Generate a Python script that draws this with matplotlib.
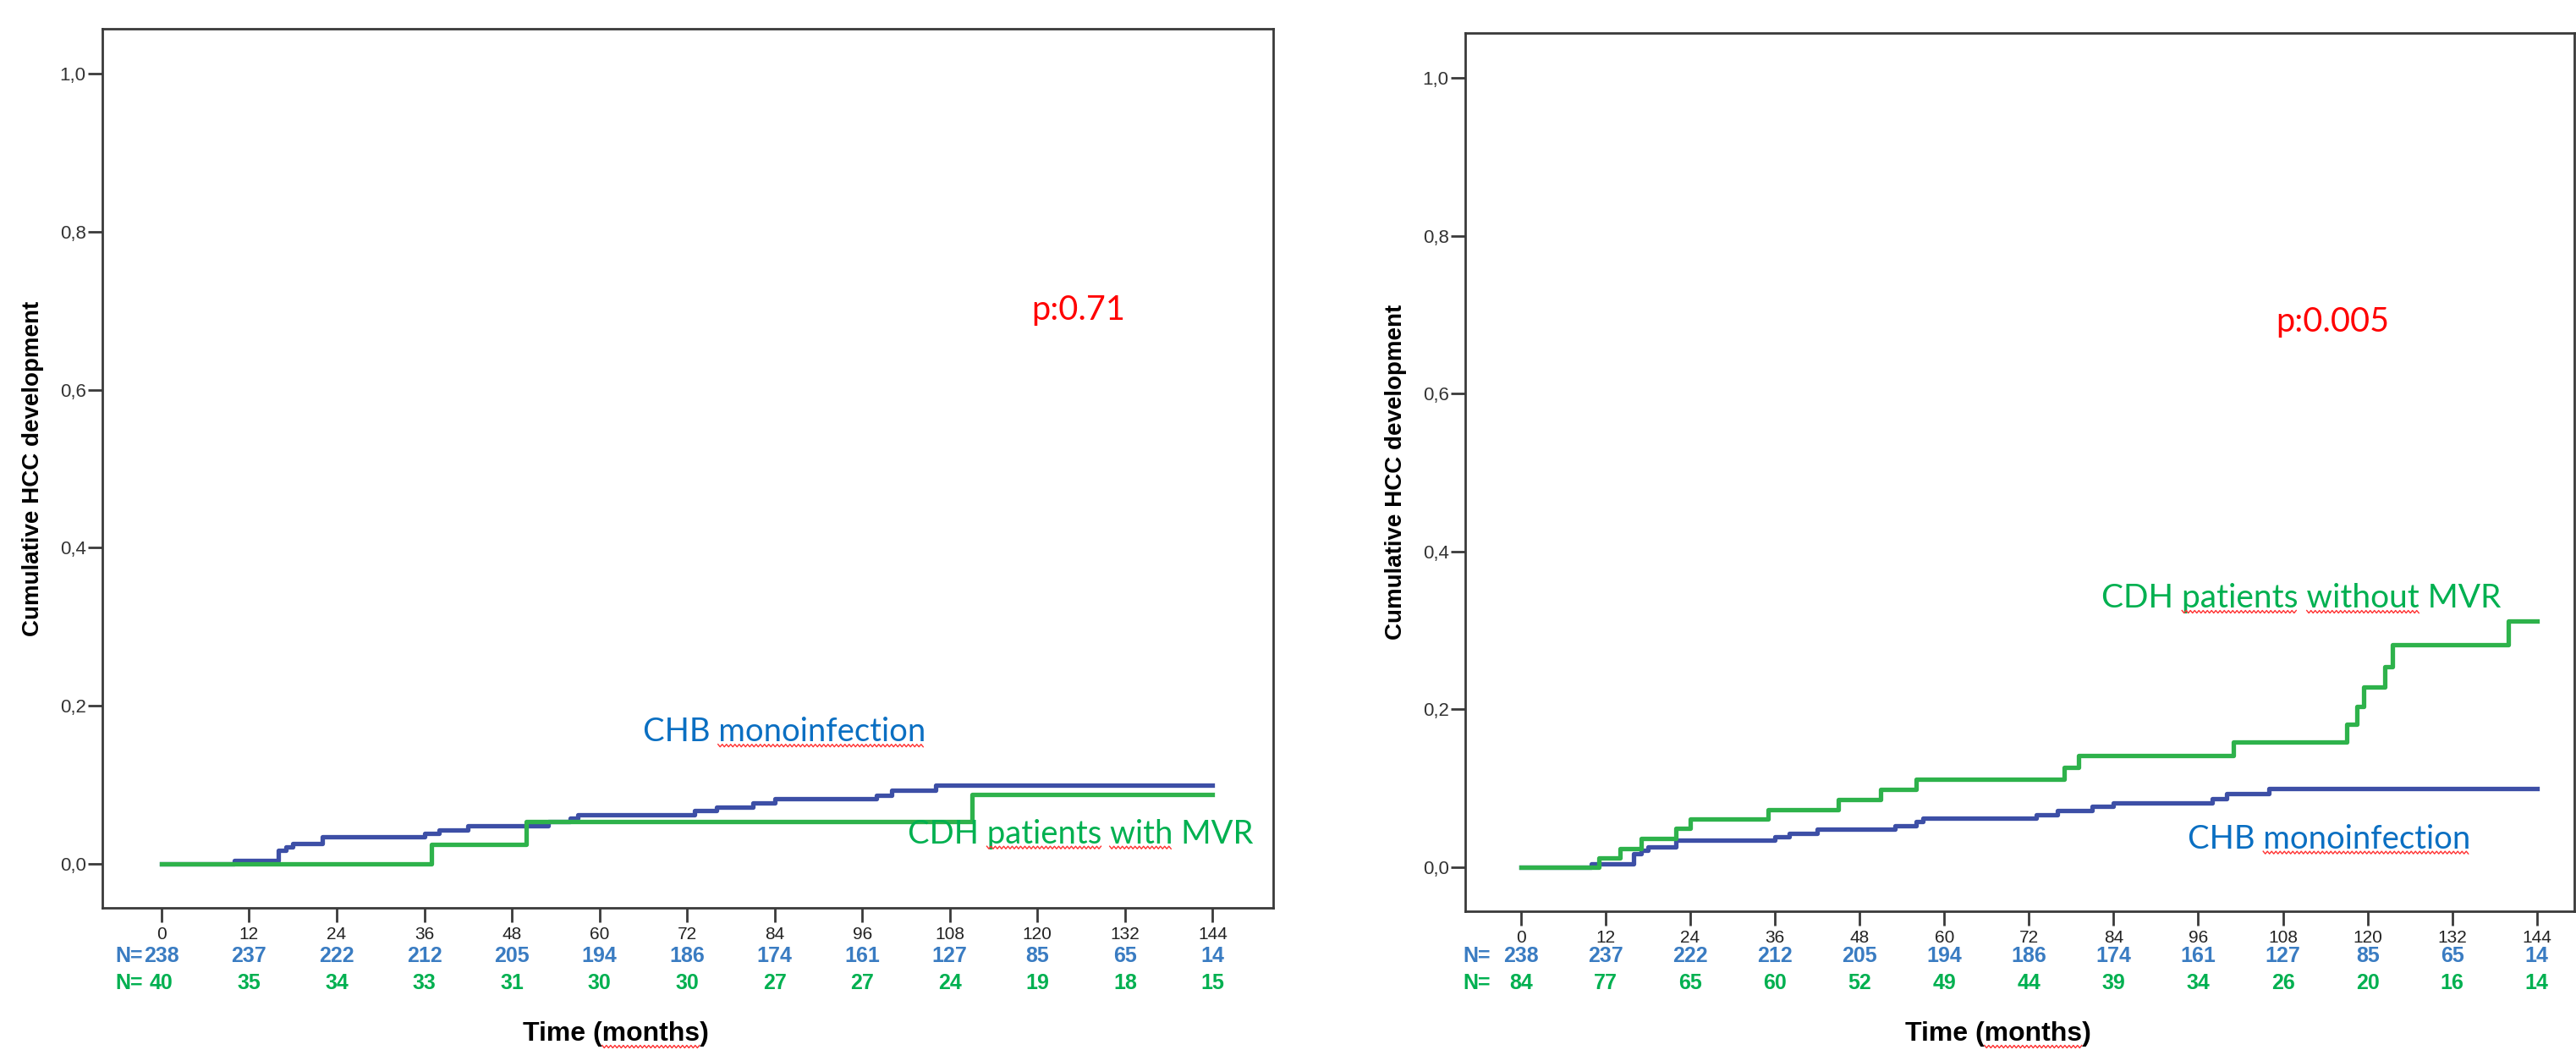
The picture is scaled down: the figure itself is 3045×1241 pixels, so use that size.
import matplotlib
matplotlib.use("Agg")
import numpy as np
import matplotlib.pyplot as plt
from matplotlib import font_manager
from matplotlib.ticker import FuncFormatter
from matplotlib.lines import Line2D
import matplotlib.transforms as mtransforms

# cumulative HCC curves (months, cumulative incidence)
chb_t = [0, 10, 16, 17, 18, 22, 36, 38, 42, 53, 56, 57, 73, 76, 81, 84, 98, 100, 106, 144]
chb_y = [0, 0.004, 0.017, 0.021, 0.026, 0.034, 0.039, 0.043, 0.048, 0.053, 0.058, 0.062,
         0.067, 0.072, 0.077, 0.082, 0.087, 0.093, 0.100, 0.100]

mvr_t = [0, 37, 50, 111, 144]
mvr_y = [0, 0.025, 0.053, 0.088, 0.088]

nomvr_t = [0, 11, 14, 17, 22, 24, 35, 45, 51, 56, 77, 79, 101, 117, 118.5, 119.5, 122.5, 123.5, 140, 144]
nomvr_y = [0, 0.012, 0.024, 0.036, 0.049, 0.061, 0.073, 0.086, 0.099, 0.112, 0.127, 0.142,
           0.159, 0.181, 0.204, 0.228, 0.254, 0.282, 0.312, 0.312]

# numbers at risk
risk_times = [0, 12, 24, 36, 48, 60, 72, 84, 96, 108, 120, 132, 144]
chb_n = [238, 237, 222, 212, 205, 194, 186, 174, 161, 127, 85, 65, 14]
mvr_n = [40, 35, 34, 33, 31, 30, 30, 27, 27, 24, 19, 18, 15]
nomvr_n = [84, 77, 65, 60, 52, 49, 44, 39, 34, 26, 20, 16, 14]

yticks = [0, 0.2, 0.4, 0.6, 0.8, 1.0]

names = set(f.name for f in font_manager.fontManager.ttflist)
def pick(*cands):
    for c in cands:
        if c in names:
            return c
    return "DejaVu Sans"

narrow = pick("Liberation Sans Narrow", "Liberation Sans")
arial = pick("Liberation Sans")
calibri = pick("Lato", "Open Sans")

line_blue = "#3d4fa6"
line_green = "#2eb24b"
txt_blue = "#0a6fc2"
txt_green = "#00b050"
n_blue = "#3a7cc2"
frame = "#3a3a3a"

W, H = 3045, 1241
fig = plt.figure(figsize=(W / 100, H / 100), dpi=100)

ax1 = fig.add_axes([121 / W, 1 - 1073 / H, (1505 - 121) / W, (1073 - 34) / H])
ax2 = fig.add_axes([1732 / W, 1 - 1077 / H, (3043 - 1732) / W, (1077 - 39) / H])


def setup(ax, xlim):
    ax.set_xlim(*xlim)
    ax.set_ylim(-0.0557, 1.0567)
    ax.set_xticks(risk_times)
    ax.set_yticks(yticks)
    ax.set_xticklabels([str(t) for t in risk_times], fontfamily=narrow, fontsize=15, color="#222222")
    ax.yaxis.set_major_formatter(FuncFormatter(lambda v, p: ("%.1f" % v).replace(".", ",")))
    for lab in ax.get_yticklabels():
        lab.set_fontfamily(narrow)
        lab.set_fontsize(16)
        lab.set_color("#333333")
    ax.tick_params(axis="both", direction="out", length=12, width=2, color=frame)
    ax.tick_params(axis="x", pad=4)
    ax.tick_params(axis="y", pad=2)
    for s in ax.spines.values():
        s.set_color(frame)
        s.set_linewidth(2)
    ax.set_ylabel("Cumulative HCC development", fontfamily=arial, fontweight="bold", fontsize=20)


setup(ax1, (-8.1, 152.3))
setup(ax2, (-7.9, 149.3))
ax1.yaxis.set_label_coords(-0.05, 0.5)
ax2.yaxis.set_label_coords(-0.053, 0.5)

# curves
lw = 3.8
ax1.step(chb_t, chb_y, where="post", color=line_blue, lw=lw)
ax1.step(mvr_t, mvr_y, where="post", color=line_green, lw=lw)
ax2.step(chb_t, chb_y, where="post", color=line_blue, lw=lw)
ax2.step(nomvr_t, nomvr_y, where="post", color=line_green, lw=lw)

# annotations
t1 = ax1.text(65.9, 0.155, "CHB monoinfection", color=txt_blue, fontfamily=calibri, fontsize=27.5)
t2 = ax1.text(102.2, 0.026, "CDH patients with MVR", color=txt_green, fontfamily=calibri, fontsize=27.5)
ax1.text(119.2, 0.688, "p:0.71", color="red", fontfamily=calibri, fontsize=28.5)
ax2.text(107, 0.678, "p:0.005", color="red", fontfamily=calibri, fontsize=28.5)
t3 = ax2.text(82.3, 0.329, "CDH patients without MVR", color=txt_green, fontfamily=calibri, fontsize=28)
t4 = ax2.text(94.5, 0.024, "CHB monoinfection", color=txt_blue, fontfamily=calibri, fontsize=27.5)

# numbers at risk rows
def risk_row(ax, counts, color, ypix, nx):
    tr = mtransforms.blended_transform_factory(ax.transData, fig.transFigure)
    yy = 1 - ypix / H
    ax.text(nx, yy, "N=", transform=tr, ha="right", va="center", color=color,
            fontfamily=narrow, fontweight="bold", fontsize=18, clip_on=False)
    for t, n in zip(risk_times, counts):
        ax.text(t, yy, str(n), transform=tr, ha="center", va="center", color=color,
                fontfamily=narrow, fontweight="bold", fontsize=18, clip_on=False)

risk_row(ax1, chb_n, n_blue, 1130, -2.6)
risk_row(ax1, mvr_n, txt_green, 1162, -2.6)
risk_row(ax2, chb_n, n_blue, 1130, -4.3)
risk_row(ax2, nomvr_n, txt_green, 1162, -4.3)

t5 = fig.text(728 / W, 1 - 1222 / H, "Time (months)", ha="center", va="center",
              fontfamily=narrow, fontweight="bold", fontsize=23)
t6 = fig.text(2362 / W, 1 - 1222 / H, "Time (months)", ha="center", va="center",
              fontfamily=narrow, fontweight="bold", fontsize=23)

# red spell-check squiggles under some words, as in the source screenshot
renderer = fig.canvas.get_renderer()

def squiggle(txt, word, drop=2):
    s = txt.get_text()
    i = s.index(word)
    bb = txt.get_window_extent(renderer)
    tmp = fig.text(0, 0, "x", fontproperties=txt.get_fontproperties())
    w0 = 0
    if i > 0:
        tmp.set_text(s[:i])
        w0 = tmp.get_window_extent(renderer).width
    tmp.set_text(s[:i + len(word)])
    w1 = tmp.get_window_extent(renderer).width
    tmp.remove()
    xs = np.arange(bb.x0 + w0, bb.x0 + w1, 2.5)
    ys = bb.y0 + drop + np.where(np.arange(len(xs)) % 2 == 0, 1.5, -1.5)
    fig.add_artist(Line2D(xs / W, ys / H, transform=fig.transFigure, color="#ff3030", lw=1))

squiggle(t1, "monoinfection")
squiggle(t2, "patients")
squiggle(t2, "with")
squiggle(t3, "patients")
squiggle(t3, "without")
squiggle(t4, "monoinfection")
squiggle(t5, "months", drop=0)
squiggle(t6, "months", drop=0)

fig.savefig("out.png", dpi=100, facecolor="white")
